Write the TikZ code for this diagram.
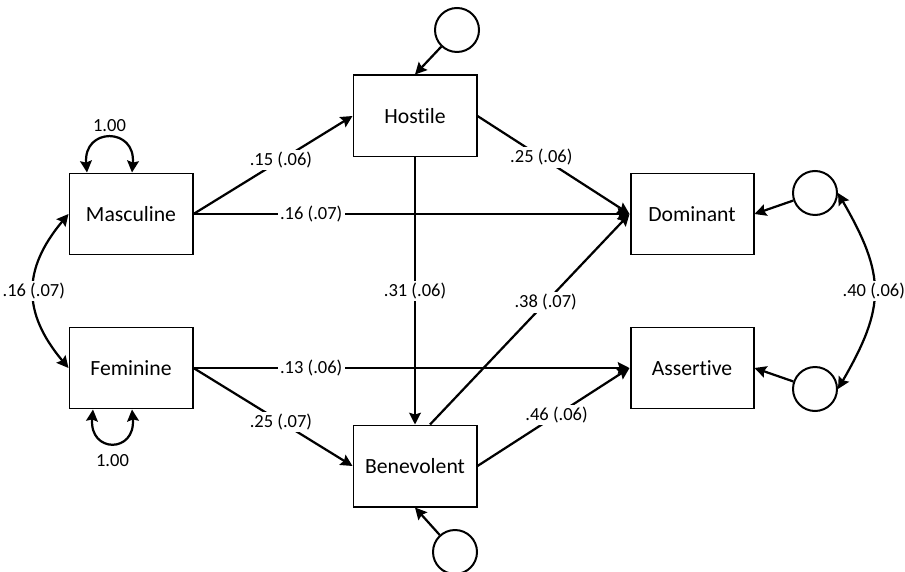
\documentclass[tikz,border=0pt]{standalone}
\usepackage{fontspec}
\setmainfont{Carlito}[Ligatures=NoCommon]
\usetikzlibrary{positioning,arrows.meta}

\begin{document}
\begin{tikzpicture}[
  x=0.03cm, y=-0.03cm,
  box/.style={draw, line width=1.7pt, minimum width=3.69cm, minimum height=2.43cm,
    inner sep=0pt, font=\fontsize{18.5}{20}\selectfont},
  err/.style={draw, circle, line width=1.7pt, minimum size=1.32cm, inner sep=0pt},
  arrow/.style={-{Stealth[length=10pt, width=10pt, inset=1.5pt]}, line width=1.9pt},
  dblarrow/.style={{Stealth[length=10pt, width=10pt, inset=1.5pt]}-{Stealth[length=10pt, width=10pt, inset=1.5pt]}, line width=1.9pt},
  coef/.style={fill=white, inner sep=2pt, font=\fontsize{15.8}{17}\selectfont}
]

%% ── Canvas ───────────────────────────────────────────────────────────
\useasboundingbox (0,0) rectangle (905,572);

%% ── Column x-positions ───────────────────────────────────────────────
\def\xL{131}    % gender roles
\def\xM{415}    % sexism
\def\xR{692}    % outcomes

%% ── Observed variables ───────────────────────────────────────────────
\node[box] (Masc)   at (\xL, 214) {Masculine};
\node[box] (Fem)    at (\xL, 368) {Feminine};
\node[box] (Host)   at (\xM, 116) {Hostile};
\node[box] (Benev)  at (\xM, 466) {Benevolent};
\node[box] (Dom)    at (\xR, 214) {Dominant};
\node[box] (Assert) at (\xR, 368) {Assertive};

%% ── Error terms ──────────────────────────────────────────────────────
\node[err] (eHost)   at (457, 30)  {};
\node[err] (eBenev)  at (455, 552) {};
\node[err] (eDom)    at (815, 193) {};
\node[err] (eAssert) at (815, 389) {};

\draw[arrow] (eHost)   -- (Host.north);
\draw[arrow] (eBenev)  -- (Benev.south);
\draw[arrow] (eDom)    -- (Dom.east);
\draw[arrow] (eAssert) -- (Assert.east);

%% ── Variances ────────────────────────────────────────────────────────
\draw[dblarrow] ([xshift=-1.32cm]Masc.north) to[out=95, in=85, looseness=2.6]
    node[midway, above, inner sep=4.5pt, font=\fontsize{15.8}{17}\selectfont] {1.00}
    ([xshift=0.03cm]Masc.north);
\draw[dblarrow] ([xshift=-1.14cm]Fem.south) to[out=-95, in=-85, looseness=2.9]
    node[midway, below, inner sep=9pt, font=\fontsize{15.8}{17}\selectfont] {1.00}
    ([xshift=0.03cm]Fem.south);

%% ── Covariances ──────────────────────────────────────────────────────
\draw[dblarrow] (Masc.west) to[out=230, in=130, looseness=1.2]
    node[coef, midway] {.16 (.07)} (Fem.west);
\draw[dblarrow] (eDom.east) to[out=-60, in=60, looseness=1.25]
    node[coef, midway] {.40 (.06)} (eAssert.east);

%% ── Paths from gender roles ──────────────────────────────────────────
\draw[arrow] (Masc.east) -- (Host.west)   node[coef, pos=0.55] {.15 (.06)};
\draw[arrow] (Masc.east) -- (Dom.west)    node[coef, pos=0.27] {.16 (.07)};
\draw[arrow] (Fem.east)  -- (Assert.west) node[coef, pos=0.27] {.13 (.06)};
\draw[arrow] (Fem.east)  -- (Benev.west)  node[coef, pos=0.55] {.25 (.07)};

%% ── Paths from sexism ────────────────────────────────────────────────
\draw[arrow] (Host.east)  -- (Dom.west)   node[coef, pos=0.42] {.25 (.06)};
\draw[arrow] (Host.south) -- (Benev.north) node[coef, midway] {.31 (.06)};
\draw[arrow] ([xshift=0.45cm]Benev.north) -- (Dom.west) node[coef, pos=0.58] {.38 (.07)};
\draw[arrow] (Benev.east) -- (Assert.west) node[coef, pos=0.52] {.46 (.06)};

\end{tikzpicture}
\end{document}
